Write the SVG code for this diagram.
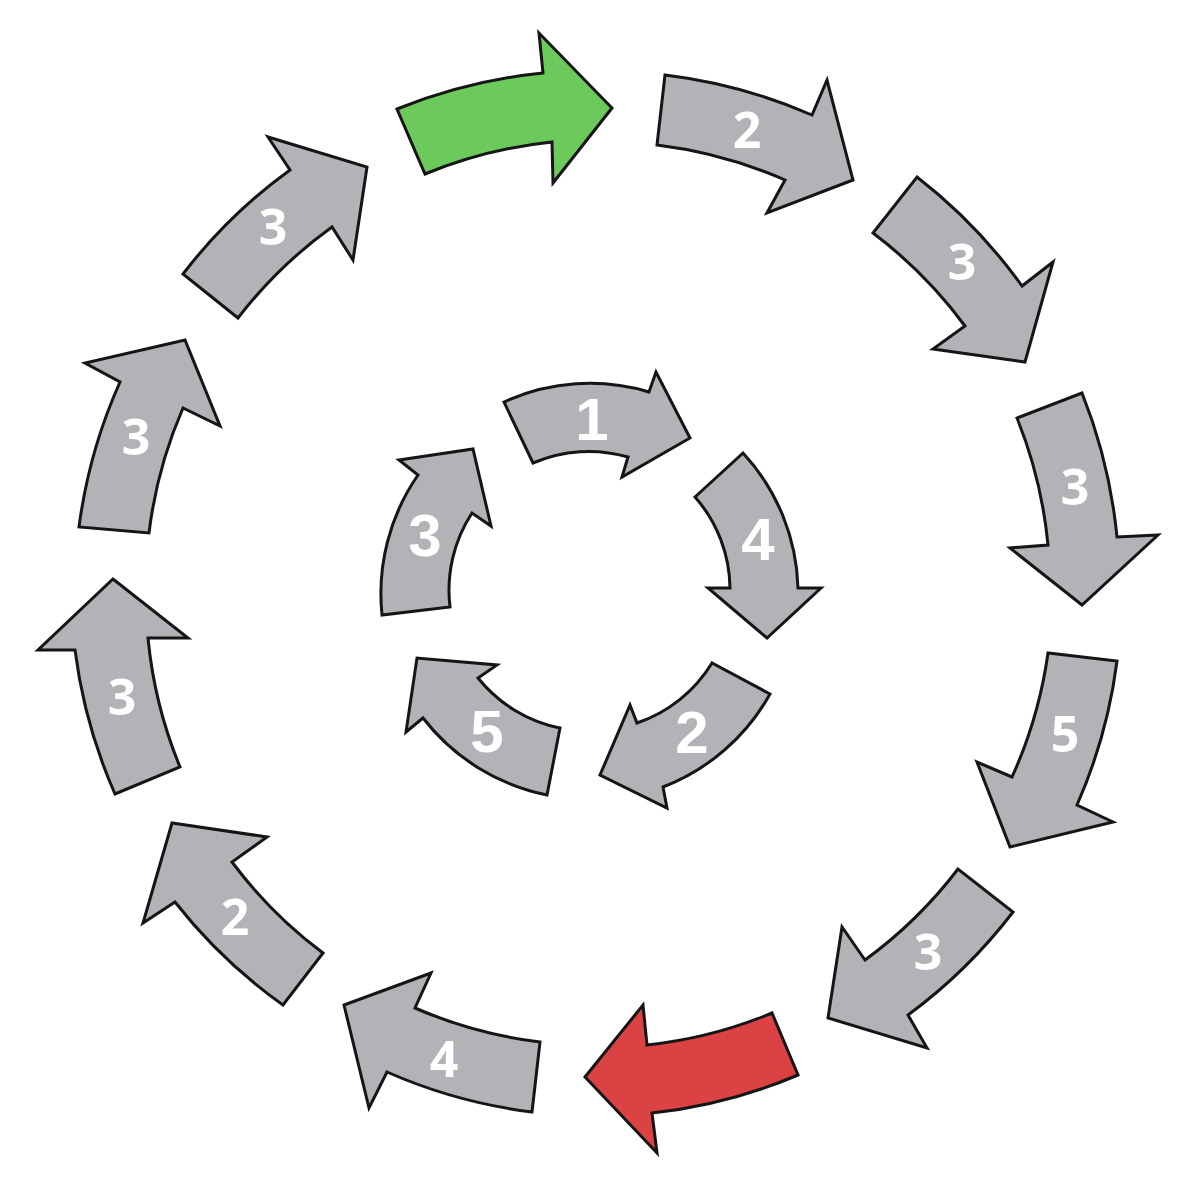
<svg xmlns="http://www.w3.org/2000/svg" width="1200" height="1184" viewBox="0 0 1200 1184">
<style>
.a{fill:#b2b2b7;stroke:#151515;stroke-width:3;stroke-linejoin:miter}
.g{fill:#6cc95b}
.r{fill:#da4244}
.lo{font-family:"Open Sans","DejaVu Sans",sans-serif;font-weight:700;font-size:50px;fill:#fff;text-anchor:middle}
.li{font-family:"Liberation Sans",Arial,sans-serif;font-weight:700;font-size:60px;fill:#fff;text-anchor:middle}
</style>
<rect width="1200" height="1184" fill="#fff"/>
<g id="outer-green">
<path class="a g" d="M397,109 A530,530 0 0 1 543,73 L539,33 L612,108 L553,183 L552,142 A460,460 0 0 0 425,174 Z"/>
</g>
<g id="outer-2a">
<path class="a" d="M665,75 A525,525 0 0 1 812,115 L827,80 L853,180 L767,213 L785,180 A455,455 0 0 0 657,145 Z"/>
<text class="lo" x="747" y="148">2</text>
</g>
<g id="outer-3a">
<path class="a" d="M917,177 A525,525 0 0 1 1022,286 L1053,262 L1025,362 L933,349 L965,326 A455,455 0 0 0 873,233 Z"/>
<text class="lo" x="962" y="280">3</text>
</g>
<g id="outer-3b">
<path class="a" d="M1082,393 A525,525 0 0 1 1117,537 L1158,535 L1082,605 L1010,548 L1048,545 A455,455 0 0 0 1017,418 Z"/>
<text class="lo" x="1075" y="505">3</text>
</g>
<g id="outer-5">
<path class="a" d="M1117,661 A520,520 0 0 1 1077,805 L1113,822 L1010,847 L977,762 L1012,777 A450,450 0 0 0 1048,653 Z"/>
<text class="lo" x="1065" y="752">5</text>
</g>
<g id="outer-3c">
<path class="a" d="M1013,912 A520,520 0 0 1 908,1015 L927,1048 L828,1018 L842,927 L865,960 A450,450 0 0 0 958,869 Z"/>
<text class="lo" x="928" y="970">3</text>
</g>
<g id="outer-red">
<path class="a r" d="M798,1075 A515,515 0 0 1 652,1113 L657,1153 L585,1077 L643,1005 L647,1045 A447,447 0 0 0 772,1013 Z"/>
</g>
<g id="outer-4">
<path class="a" d="M532,1112 A520,520 0 0 1 387,1072 L369,1108 L344,1005 L431,973 L415,1008 A450,450 0 0 0 540,1042 Z"/>
<text class="lo" x="444" y="1077">4</text>
</g>
<g id="outer-2b">
<path class="a" d="M283,1005 A520,520 0 0 1 175,902 L143,923 L172,823 L267,837 L232,862 A450,450 0 0 0 323,953 Z"/>
<text class="lo" x="235" y="935">2</text>
</g>
<g id="outer-3d">
<path class="a" d="M115,794 A520,520 0 0 1 75,650 L38,650 L113,579 L188,638 L148,638 A450,450 0 0 0 180,767 Z"/>
<text class="lo" x="122" y="715">3</text>
</g>
<g id="outer-3e">
<path class="a" d="M79,527 A520,520 0 0 1 120,382 L85,363 L185,340 L220,426 L183,408 A450,450 0 0 0 149,533 Z"/>
<text class="lo" x="136" y="455">3</text>
</g>
<g id="outer-3f">
<path class="a" d="M183,274 A520,520 0 0 1 290,170 L268,137 L367,167 L353,260 L332,227 A450,450 0 0 0 238,318 Z"/>
<text class="lo" x="273" y="245">3</text>
</g>
<g id="inner-1">
<path class="a" d="M504,402 A207,207 0 0 1 649,392 L656,372 L690,438 L622,477 L628,457 A140,140 0 0 0 533,463 Z"/>
<text class="li" x="592" y="440">1</text>
</g>
<g id="inner-4">
<path class="a" d="M743,453 A207,207 0 0 1 798,588 L821,588 L767,638 L708,588 L730,588 A140,140 0 0 0 695,497 Z"/>
<text class="li" x="758" y="560">4</text>
</g>
<g id="inner-2">
<path class="a" d="M770,694 A208,208 0 0 1 663,787 L667,808 L600,775 L630,705 L637,723 A141,141 0 0 0 712,663 Z"/>
<text class="li" x="692" y="753">2</text>
</g>
<g id="inner-5">
<path class="a" d="M547,795 A209,209 0 0 1 423,718 L406,732 L417,658 L497,665 L478,678 A141,141 0 0 0 560,728 Z"/>
<text class="li" x="487" y="752">5</text>
</g>
<g id="inner-3">
<path class="a" d="M382,615 A208,208 0 0 1 418,475 L399,460 L473,449 L491,526 L472,513 A141,141 0 0 0 450,607 Z"/>
<text class="li" x="425" y="556">3</text>
</g>
<g id="connectors"></g>
</svg>
